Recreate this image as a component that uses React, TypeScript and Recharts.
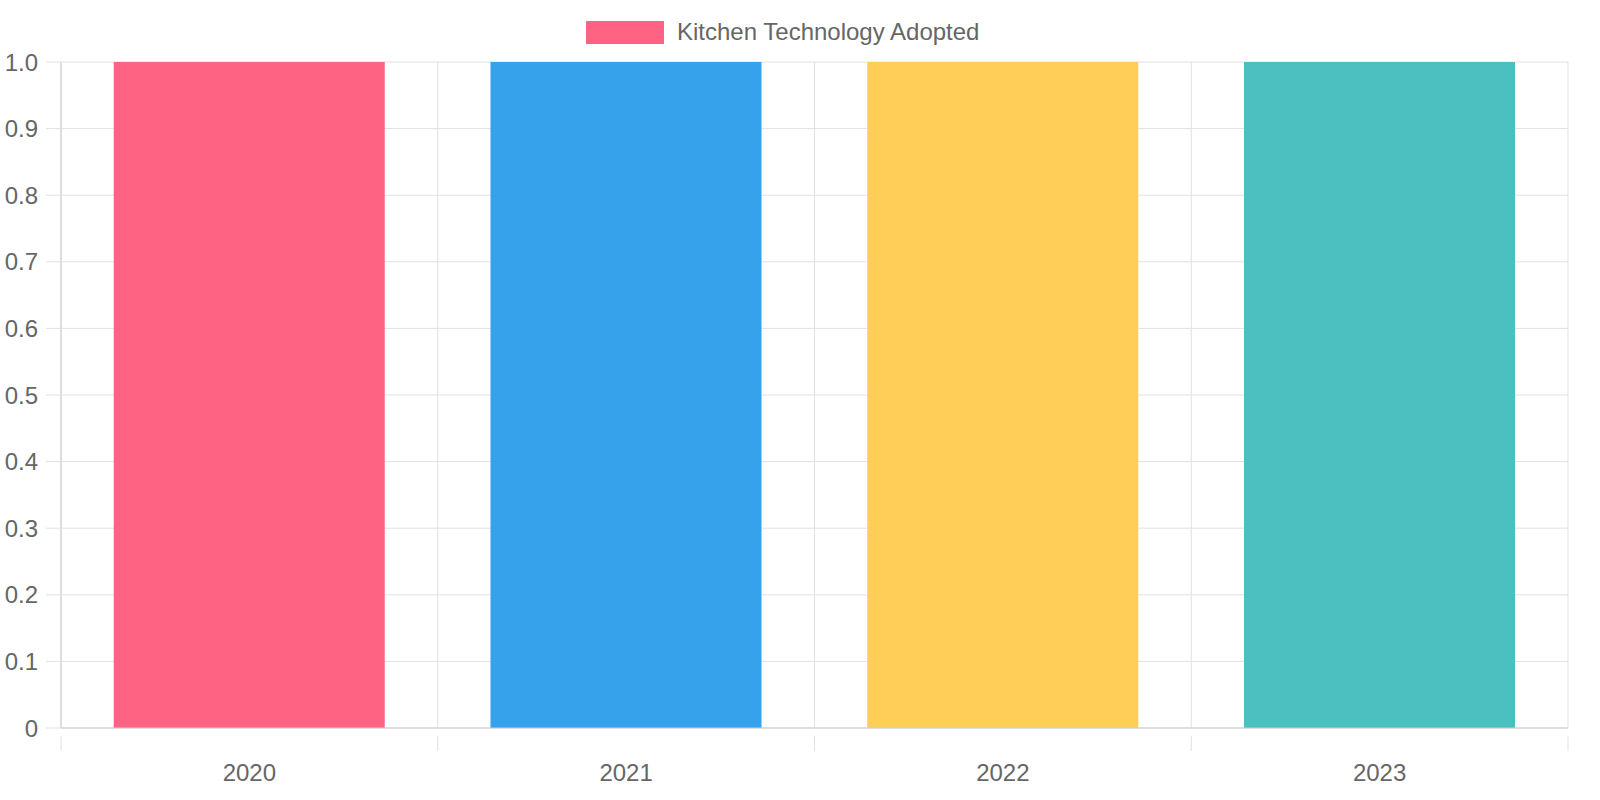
import { BarChart, Bar, Cell, XAxis, YAxis, CartesianGrid, Legend } from 'recharts';

const years = ['2020', '2021', '2022', '2023'];
const adopted = [1, 1, 1, 1];
const barColors = ['#FF6384', '#36A2EB', '#FFCE56', '#4BC0C0'];
const yTicks = [0, 0.1, 0.2, 0.3, 0.4, 0.5, 0.6, 0.7, 0.8, 0.9, 1.0];
const seriesLabel = 'Kitchen Technology Adopted';

const data = years.map((year, i) => ({ year, adopted: adopted[i] }));

const GRID = '#e1e1e1';
const AXIS = '#cccccc';
const TEXT = '#666';
const FONT = '"Liberation Sans", Arial, Helvetica, sans-serif';

function LegendBox() {
  return (
    <div style={{ display: 'flex', alignItems: 'center', fontFamily: FONT }}>
      <span style={{ width: 78, height: 23, background: barColors[0], display: 'inline-block' }} />
      <span style={{ marginLeft: 13, fontSize: 24, color: TEXT, whiteSpace: 'nowrap' }}>{seriesLabel}</span>
    </div>
  );
}

// category label at band centre plus the short grid tick at the band edges
function XTick(props: any) {
  const { x, y, payload, index } = props;
  const band = (1568 - 61) / years.length;
  const left = x - band / 2;
  return (
    <g>
      <line x1={left} y1={y} x2={left} y2={y + 15} stroke={GRID} />
      {index === years.length - 1 && (
        <line x1={left + band} y1={y} x2={left + band} y2={y + 15} stroke={GRID} />
      )}
      <text x={x} y={y + 45} textAnchor="middle" fontSize={24} fill={TEXT} fontFamily={FONT}>
        {payload.value}
      </text>
    </g>
  );
}

export default function App() {
  return (
    <div style={{ position: 'absolute', left: 0, top: 0, width: 1600, height: 800, background: '#fff' }}>
      <BarChart
        width={1600}
        height={800}
        data={data}
        margin={{ top: 62, right: 32, left: 0, bottom: 0 }}
        barCategoryGap="14%"
      >
        <CartesianGrid
          stroke={GRID}
          verticalCoordinatesGenerator={({ offset }: any) =>
            Array.from({ length: years.length + 1 }, (_, i) => offset.left + (i * offset.width) / years.length)
          }
        />
        <XAxis
          dataKey="year"
          height={72}
          tickLine={false}
          axisLine={{ stroke: AXIS }}
          tick={<XTick />}
          interval={0}
        />
        <YAxis
          width={61}
          domain={[0, 1]}
          ticks={yTicks}
          interval={0}
          tickSize={15}
          tickMargin={8}
          tickLine={{ stroke: GRID }}
          axisLine={{ stroke: AXIS }}
          tickFormatter={(v: number) => (v === 0 ? '0' : v.toFixed(1))}
          tick={{ fontSize: 24, fill: TEXT, fontFamily: FONT }}
        />
        <Legend
          verticalAlign="middle"
          layout="horizontal"
          content={<LegendBox />}
          wrapperStyle={{ top: 18, left: 586, width: 'auto' }}
        />
        <Bar dataKey="adopted" name={seriesLabel} isAnimationActive={false}>
          {data.map((d, i) => (
            <Cell key={d.year} fill={barColors[i]} />
          ))}
        </Bar>
      </BarChart>
    </div>
  );
}
